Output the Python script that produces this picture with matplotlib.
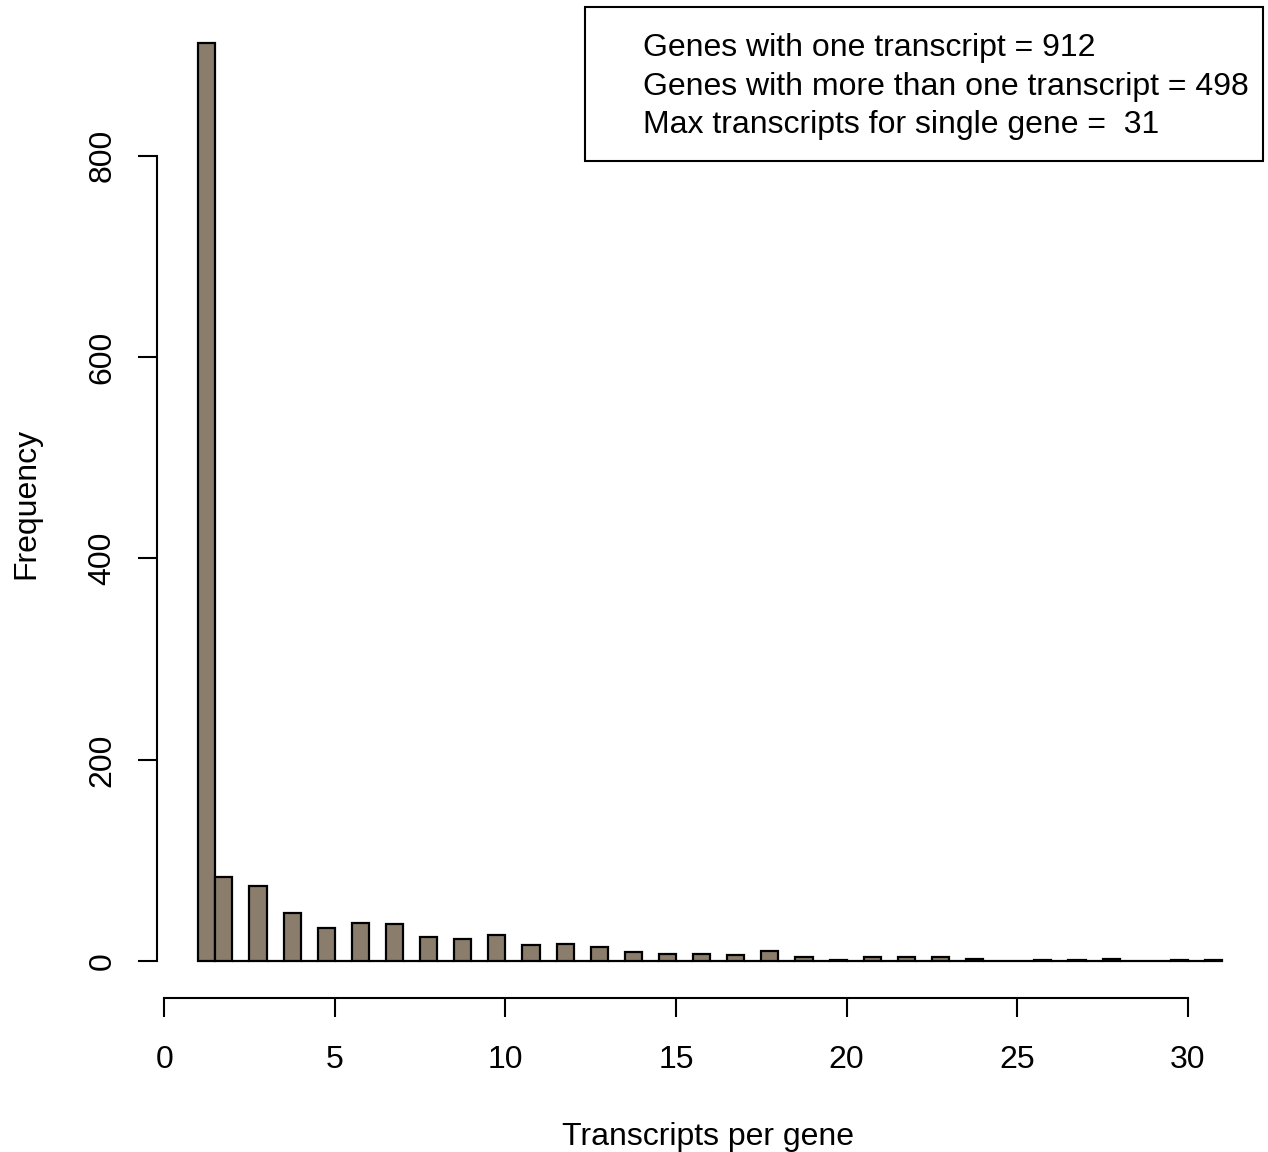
import numpy as np
import matplotlib
matplotlib.use("Agg")
import matplotlib.pyplot as plt
from matplotlib.patches import Rectangle

# transcripts per gene and how many genes have that many
n_trans = list(range(1, 32))
freq = [912, 84, 75, 48, 33, 38, 37, 24, 22, 26, 16, 17, 14, 9, 7, 7,
        6, 10, 4, 1, 4, 4, 4, 2, 0, 1, 1, 2, 0, 1, 1]
xticks = [0, 5, 10, 15, 20, 25, 30]
yticks = [0, 200, 400, 600, 800]
legend_lines = ["Genes with one transcript = 912",
                "Genes with more than one transcript = 498",
                "Max transcripts for single gene =  31"]

plt.rcParams['font.family'] = ['Liberation Sans', 'DejaVu Sans']
W, H = 1268, 1152
fs = 23
fig = plt.figure(figsize=(W / 100, H / 100), dpi=100)

# plot region in pixels (R style)
L, R, T, B = 157.3, 1263, 6.3, 997.9
ax = fig.add_axes([L / W, 1 - B / H, (R - L) / W, (B - T) / H])

# R hist with breaks every 0.5, right closed
edges = np.arange(1, 31.01, 0.5)
heights = np.zeros(len(edges) - 1)
for k, f in zip(n_trans, freq):
    if k == 1:
        heights[0] += f
    else:
        heights[int(round((k - 1.5) / 0.5))] += f

ax.bar(edges[:-1], heights, width=0.5, align='edge', color='#8B7D6B',
       edgecolor='black', linewidth=1.6)

ax.set_xlim(-0.2, 32.2)
ax.set_ylim(-36.48, 948.48)

for s in ['top', 'right']:
    ax.spines[s].set_visible(False)
ax.spines['bottom'].set_bounds(0, 30)
ax.spines['left'].set_bounds(0, 800)
ax.spines['bottom'].set_linewidth(1.5)
ax.spines['left'].set_linewidth(1.5)

ax.set_xticks(xticks)
ax.set_yticks(yticks)
ax.tick_params(axis='both', length=14, width=1.5, labelsize=fs)
ax.tick_params(axis='x', pad=20)
ax.tick_params(axis='y', pad=14.5)
for lab in ax.get_yticklabels():
    lab.set_rotation(90)
    lab.set_va('center')

# axis titles
fig.text(708 / W, 1 - 1145 / H, "Transcripts per gene", fontsize=fs,
         ha='center', va='baseline')
fig.text(34 / W, 1 - 503 / H, "Frequency", fontsize=fs, rotation=90,
         rotation_mode='anchor', ha='center', va='baseline')

# legend box
box = Rectangle((585 / W, 1 - 160.7 / H), (R - 585) / W, (160.7 - 7) / H,
                transform=fig.transFigure, fill=False, edgecolor='black',
                linewidth=1.5)
fig.patches.append(box)
for txt, yb in zip(legend_lines, [56, 95, 133]):
    fig.text(643 / W, 1 - yb / H, txt, fontsize=fs, ha='left', va='baseline')

fig.savefig("out.png", dpi=100)
